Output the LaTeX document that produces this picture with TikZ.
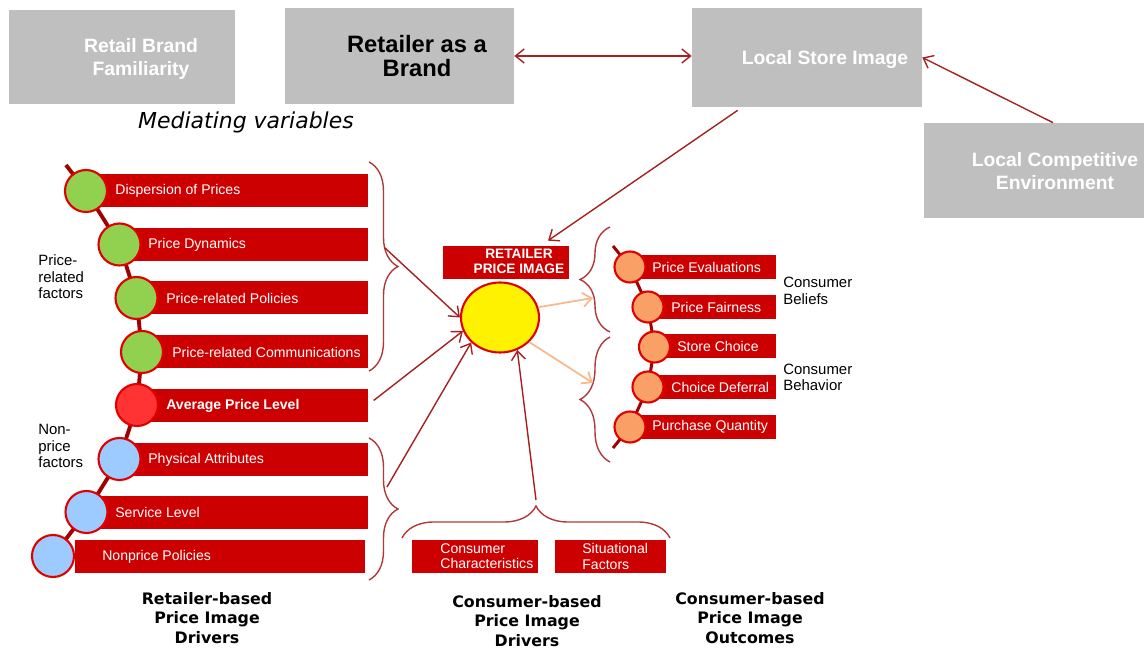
\documentclass[tikz,border=0pt]{standalone}
\usepackage{fontspec}
\setmainfont{Liberation Sans}
\newfontfamily\verdana{DejaVu Sans}
\usepackage{xcolor}
\definecolor{boxGray}{HTML}{BFBFBF}
\definecolor{barRed}{HTML}{CC0000}
\definecolor{rimRed}{HTML}{E00000}
\definecolor{chainRed}{HTML}{A00000}
\definecolor{arrowRed}{HTML}{A52020}
\definecolor{braceRed}{HTML}{B03A3A}
\definecolor{dotGreen}{HTML}{92D050}
\definecolor{dotRed}{HTML}{FF3333}
\definecolor{dotBlue}{HTML}{9DCBFF}
\definecolor{dotOrange}{HTML}{F9A066}
\definecolor{lightOrange}{HTML}{F8B88B}
\usepackage{tikz}
\usetikzlibrary{shapes.geometric,arrows.meta,decorations.pathreplacing,backgrounds}

\begin{document}
\begin{tikzpicture}[
            x=0.02cm, y=-0.02cm,
            >={Straight Barb[length=5pt,width=8pt]},
            greybox/.style={
                rectangle,
                fill=boxGray,
                inner sep=0pt
            },
            greytext/.style={
                font=\bfseries\fontsize{11}{13}\selectfont,
                text=white,
                align=center
            },
            bar/.style={
                rectangle,
                fill=barRed,
                anchor=west,
                inner sep=0pt,
                minimum height=0.66cm
            },
            bartext/.style={
                anchor=west,
                inner sep=0pt,
                text=white,
                font=\fontsize{8}{8.6}\selectfont
            },
            dot/.style={
                circle,
                draw=rimRed,
                line width=1.2pt,
                minimum size=0.84cm,
                inner sep=0pt
            },
            smalldot/.style={
                dot,
                minimum size=0.62cm,
                fill=dotOrange
            },
            chain/.style={
                draw=chainRed,
                line width=2.2pt
            },
            arrow/.style={
                ->,
                draw=arrowRed,
                line width=0.8pt
            },
            softarrow/.style={
                ->,
                draw=lightOrange,
                line width=1pt
            },
            curly/.style={
                decorate,
                decoration={brace, amplitude=0.58cm},
                draw=braceRed,
                line width=0.8pt
            },
            side/.style={
                align=left,
                anchor=west,
                inner sep=0pt,
                font=\fontsize{8.5}{9.4}\selectfont
            },
            group/.style={
                align=center,
                font=\verdana\bfseries\fontsize{9}{11.1}\selectfont
            }
        ]
            \useasboundingbox (0,0) rectangle (1144,651);

            % mediating variables
            \node (rbf) [greybox, minimum width=4.52cm, minimum height=1.88cm] at (122,57) {};
            \node (rbft) [greytext] at (141,59) {Retail Brand\\Familiarity};
            \node (rab) [greybox, minimum width=4.58cm, minimum height=1.92cm] at (399.5,56) {};
            \node (rabt) [greytext, text=black, font=\bfseries\fontsize{13.5}{14}\selectfont] at (417,56) {Retailer as a\\Brand};
            \node (lsi) [greybox, minimum width=4.6cm, minimum height=1.98cm] at (807,57.5) {};
            \node (lsit) [greytext] at (825,60) {Local Store Image};
            \node (lce) [greybox, minimum width=4.4cm, minimum height=1.9cm] at (1034,170.5) {};
            \node (lcet) [greytext] at (1055,171) {Local Competitive\\Environment};
            \node (med) [font=\verdana\itshape\fontsize{12.5}{15}\selectfont] at (246,122) {Mediating variables};

            % retailer price image
            \node (pi) [ellipse, draw=rimRed, fill=yellow, line width=1.2pt, minimum width=1.56cm, minimum height=1.4cm] at (500,317.5) {};
            \node (rpi) [greybox, fill=barRed, minimum width=2.52cm, minimum height=0.66cm] at (506,262.5) {};
            \node (rpit) [text=white, font=\bfseries\fontsize{7.8}{8.5}\selectfont, align=center] at (519,261.5) {RETAILER\\PRICE IMAGE};

            % retailer-based drivers
            \node (b1) [bar, minimum width=5.64cm] at (86,190.5) {};
            \node (t1) [bartext] at (115,190.5) {Dispersion of Prices};
            \node (c1) [dot, fill=dotGreen] at (86,191) {};
            \node (b2) [bar, minimum width=4.97cm] at (119.5,244.5) {};
            \node (t2) [bartext] at (148,244.5) {Price Dynamics};
            \node (c2) [dot, fill=dotGreen] at (119.5,244.5) {};
            \node (b3) [bar, minimum width=4.63cm] at (136.5,298) {};
            \node (t3) [bartext] at (166,298) {Price-related Policies};
            \node (c3) [dot, fill=dotGreen] at (136.5,298) {};
            \node (b4) [bar, minimum width=4.52cm] at (142,352) {};
            \node (t4) [bartext] at (172,352) {Price-related Communications};
            \node (c4) [dot, fill=dotGreen] at (142,352) {};
            \node (b5) [bar, minimum width=4.62cm] at (137,405.5) {};
            \node (t5) [bartext, font=\bfseries\fontsize{8}{8.6}\selectfont] at (166,405.5) {Average Price Level};
            \node (c5) [dot, fill=dotRed] at (137,405) {};
            \node (b6) [bar, minimum width=4.97cm] at (119.5,459.5) {};
            \node (t6) [bartext] at (148,459.5) {Physical Attributes};
            \node (c6) [dot, fill=dotBlue] at (119.5,459) {};
            \node (b7) [bar, minimum width=5.63cm] at (86.5,512.5) {};
            \node (t7) [bartext] at (115,512.5) {Service Level};
            \node (c7) [dot, fill=dotBlue] at (86.5,512) {};
            \node (b8) [bar, minimum width=5.8cm] at (75,556.5) {};
            \node (t8) [bartext] at (102,556.5) {Nonprice Policies};
            \node (c8) [dot, fill=dotBlue] at (53,556) {};

            \node (prf) [side] at (38,277) {Price-\\related\\factors};
            \node (npf) [side] at (38,446) {Non-\\price\\factors};

            % consumer-based outcomes
            \node (o1) [bar, minimum width=2.92cm, minimum height=0.48cm] at (630,267) {};
            \node (u1) [bartext] at (652,267) {Price Evaluations};
            \node (e1) [smalldot] at (630,267) {};
            \node (o2) [bar, minimum width=2.56cm, minimum height=0.48cm] at (648,307) {};
            \node (u2) [bartext] at (671,307) {Price Fairness};
            \node (e2) [smalldot] at (648,307) {};
            \node (o3) [bar, minimum width=2.43cm, minimum height=0.48cm] at (654.5,346.5) {};
            \node (u3) [bartext] at (677,346.5) {Store Choice};
            \node (e3) [smalldot] at (654.5,347) {};
            \node (o4) [bar, minimum width=2.56cm, minimum height=0.48cm] at (648,387) {};
            \node (u4) [bartext] at (671,387) {Choice Deferral};
            \node (e4) [smalldot] at (648,387) {};
            \node (o5) [bar, minimum width=2.92cm, minimum height=0.48cm] at (630,427) {};
            \node (u5) [bartext] at (652,427) {Purchase Quantity};
            \node (e5) [smalldot] at (630,427) {};

            \node (cbl) [side] at (783,291) {Consumer\\Beliefs};
            \node (cbh) [side] at (783,377.5) {Consumer\\Behavior};

            % consumer-based drivers
            \node (cc) [greybox, fill=barRed, minimum width=2.52cm, minimum height=0.66cm] at (475,556.5) {};
            \node (cct) [bartext, align=left] at (440,556.5) {Consumer\\Characteristics};
            \node (sf) [greybox, fill=barRed, minimum width=2.22cm, minimum height=0.66cm] at (610.5,556.5) {};
            \node (sft) [bartext, align=left] at (582,556.5) {Situational\\Factors};

            \node (rbd) [group] at (207,618) {Retailer-based\\Price Image\\Drivers};
            \node (cbd) [group] at (527,621) {Consumer-based\\Price Image\\Drivers};
            \node (cbo) [group] at (750,618) {Consumer-based\\Price Image\\Outcomes};

            % chains
            \coordinate (ktop) at (66,165);
            \coordinate (rtop) at (613,246);
            \coordinate (rbot) at (613,448);
            \begin{scope}[on background layer]
                \draw[chain] (ktop) -- (c1.center) -- (c2.center) -- (c3.center) -- (c4.center)
                    -- (c5.center) -- (c6.center) -- (c7.center) -- (c8.center);
                \draw[chain, line width=1.7pt] (rtop) -- (e1.center) -- (e2.center) -- (e3.center)
                    -- (e4.center) -- (e5.center) -- (rbot);
            \end{scope}

            % braces
            \draw[curly] (369,162) -- (369,371);
            \draw[curly] (369,438) -- (369,580);
            \draw[curly, decoration={amplitude=0.6cm}] (610,332) -- (610,227);
            \draw[curly, decoration={amplitude=0.6cm}] (610,462) -- (610,337);
            \draw[curly, decoration={amplitude=0.64cm}] (402,538) -- (670,538);

            % arrows
            \coordinate (a1) at (385,248);
            \coordinate (a3) at (387,487);
            \coordinate (a4) at (536,500);
            \coordinate (q1) at (593,298);
            \coordinate (q2) at (593,383);
            \draw[arrow] (a1) -- (pi.west);
            \draw[arrow] ([xshift=0.1cm,yshift=0.1cm]b5.east) -- (pi.200);
            \draw[arrow] (a3) -- (pi.221);
            \draw[arrow] (a4) -- (pi.298);
            \draw[softarrow] (pi.15) -- (q1);
            \draw[softarrow] (pi.320) -- (q2);
            \draw[arrow, <->] (rab.east) -- (rab.east -| lsi.west);
            \draw[arrow] ([xshift=0.38cm]lce.north) -- (lsi.east);
            \draw[arrow] ([xshift=0.92cm,yshift=-0.06cm]lsi.south west) -- ([xshift=0.84cm,yshift=0.1cm]rpi.north);
        \end{tikzpicture}
\end{document}
